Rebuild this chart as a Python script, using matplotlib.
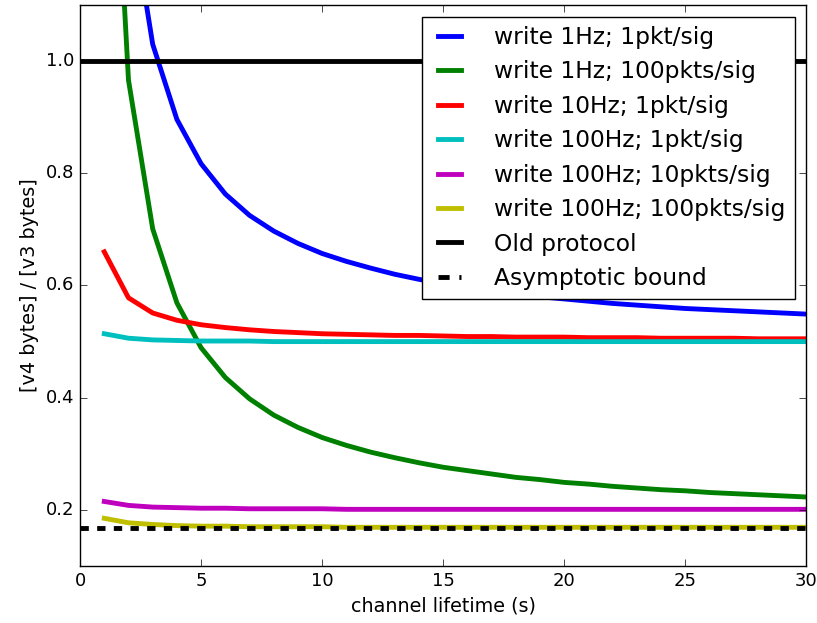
import matplotlib
matplotlib.use("Agg")
import matplotlib.pyplot as plt

plt.style.use("classic")
plt.rcParams["font.family"] = ["DejaVu Sans"]

lifetime = list(range(1, 31))

w1hz_1pkt = [2.100, 1.300, 1.030, 0.896, 0.817, 0.763, 0.725, 0.697, 0.675, 0.657,
             0.643, 0.631, 0.620, 0.611, 0.603, 0.597, 0.590, 0.585, 0.580, 0.576,
             0.572, 0.568, 0.565, 0.562, 0.559, 0.557, 0.555, 0.553, 0.551, 0.549]
w1hz_100pkts = [1.760, 0.966, 0.701, 0.569, 0.489, 0.436, 0.398, 0.369, 0.347, 0.329,
                0.315, 0.303, 0.293, 0.284, 0.276, 0.270, 0.264, 0.258, 0.254, 0.249,
                0.246, 0.242, 0.239, 0.236, 0.234, 0.231, 0.229, 0.227, 0.225, 0.223]
w10hz_1pkt = [0.660, 0.578, 0.551, 0.538, 0.530, 0.525, 0.521, 0.518, 0.516, 0.514,
              0.513, 0.512, 0.511, 0.511, 0.510, 0.509, 0.509, 0.508, 0.508, 0.508,
              0.507, 0.507, 0.507, 0.506, 0.506, 0.506, 0.506, 0.505, 0.505, 0.505]
w100hz_1pkt = [0.514, 0.506, 0.503, 0.502, 0.501, 0.501, 0.501, 0.500, 0.500, 0.500,
               0.500, 0.500, 0.500, 0.500, 0.500, 0.500, 0.500, 0.500, 0.500, 0.500,
               0.500, 0.500, 0.500, 0.500, 0.500, 0.500, 0.500, 0.500, 0.500, 0.500]
w100hz_10pkts = [0.215, 0.208, 0.205, 0.204, 0.203, 0.203, 0.202, 0.202, 0.202, 0.202,
                 0.201, 0.201, 0.201, 0.201, 0.201, 0.201, 0.201, 0.201, 0.201, 0.201,
                 0.201, 0.201, 0.201, 0.201, 0.201, 0.201, 0.201, 0.201, 0.201, 0.201]
w100hz_100pkts = [0.185, 0.177, 0.174, 0.172, 0.171, 0.171, 0.170, 0.170, 0.170, 0.170,
                  0.169, 0.169, 0.169, 0.169, 0.169, 0.169, 0.169, 0.169, 0.169, 0.169,
                  0.169, 0.169, 0.169, 0.169, 0.169, 0.169, 0.169, 0.169, 0.169, 0.169]
old_protocol = 1.0
asymptotic_bound = 0.168

labels = ["write 1Hz; 1pkt/sig", "write 1Hz; 100pkts/sig", "write 10Hz; 1pkt/sig",
          "write 100Hz; 1pkt/sig", "write 100Hz; 10pkts/sig", "write 100Hz; 100pkts/sig",
          "Old protocol", "Asymptotic bound"]
series = [w1hz_1pkt, w1hz_100pkts, w10hz_1pkt, w100hz_1pkt, w100hz_10pkts, w100hz_100pkts]
colors = ["b", "g", "r", "c", "m", "y"]

fig = plt.figure(figsize=(8.17, 6.23), dpi=100, facecolor="white")
ax = fig.add_axes([0.098, 0.0915, 0.889, 0.9005])

lw = 3.5
for vals, c, lab in zip(series, colors, labels[:6]):
    ax.plot(lifetime, vals, color=c, lw=lw, label=lab)
ax.axhline(old_protocol, color="k", lw=lw, label=labels[6])
ax.axhline(asymptotic_bound, color="k", lw=lw, ls=(0, (6, 6)), label=labels[7])

ax.set_xlim(0, 30)
ax.set_ylim(0.1, 1.1)
ax.set_xticks([0, 5, 10, 15, 20, 25, 30])
ax.set_yticks([0.2, 0.4, 0.6, 0.8, 1.0])
ax.tick_params(labelsize=13, direction="in", length=5, top=True, right=True)
ax.set_xlabel("channel lifetime (s)", fontsize=13.8)
ax.set_ylabel("[v4 bytes] / [v3 bytes]", fontsize=13.8)

leg = ax.legend(loc="upper right", fontsize=16.8, frameon=True, fancybox=False,
                borderaxespad=0.5, handlelength=1.6, handletextpad=1.1,
                labelspacing=0.49, numpoints=2)
leg.get_lines()[-1].set_dashes((8, 7))

fig.savefig("out.png", dpi=100, facecolor="white")
